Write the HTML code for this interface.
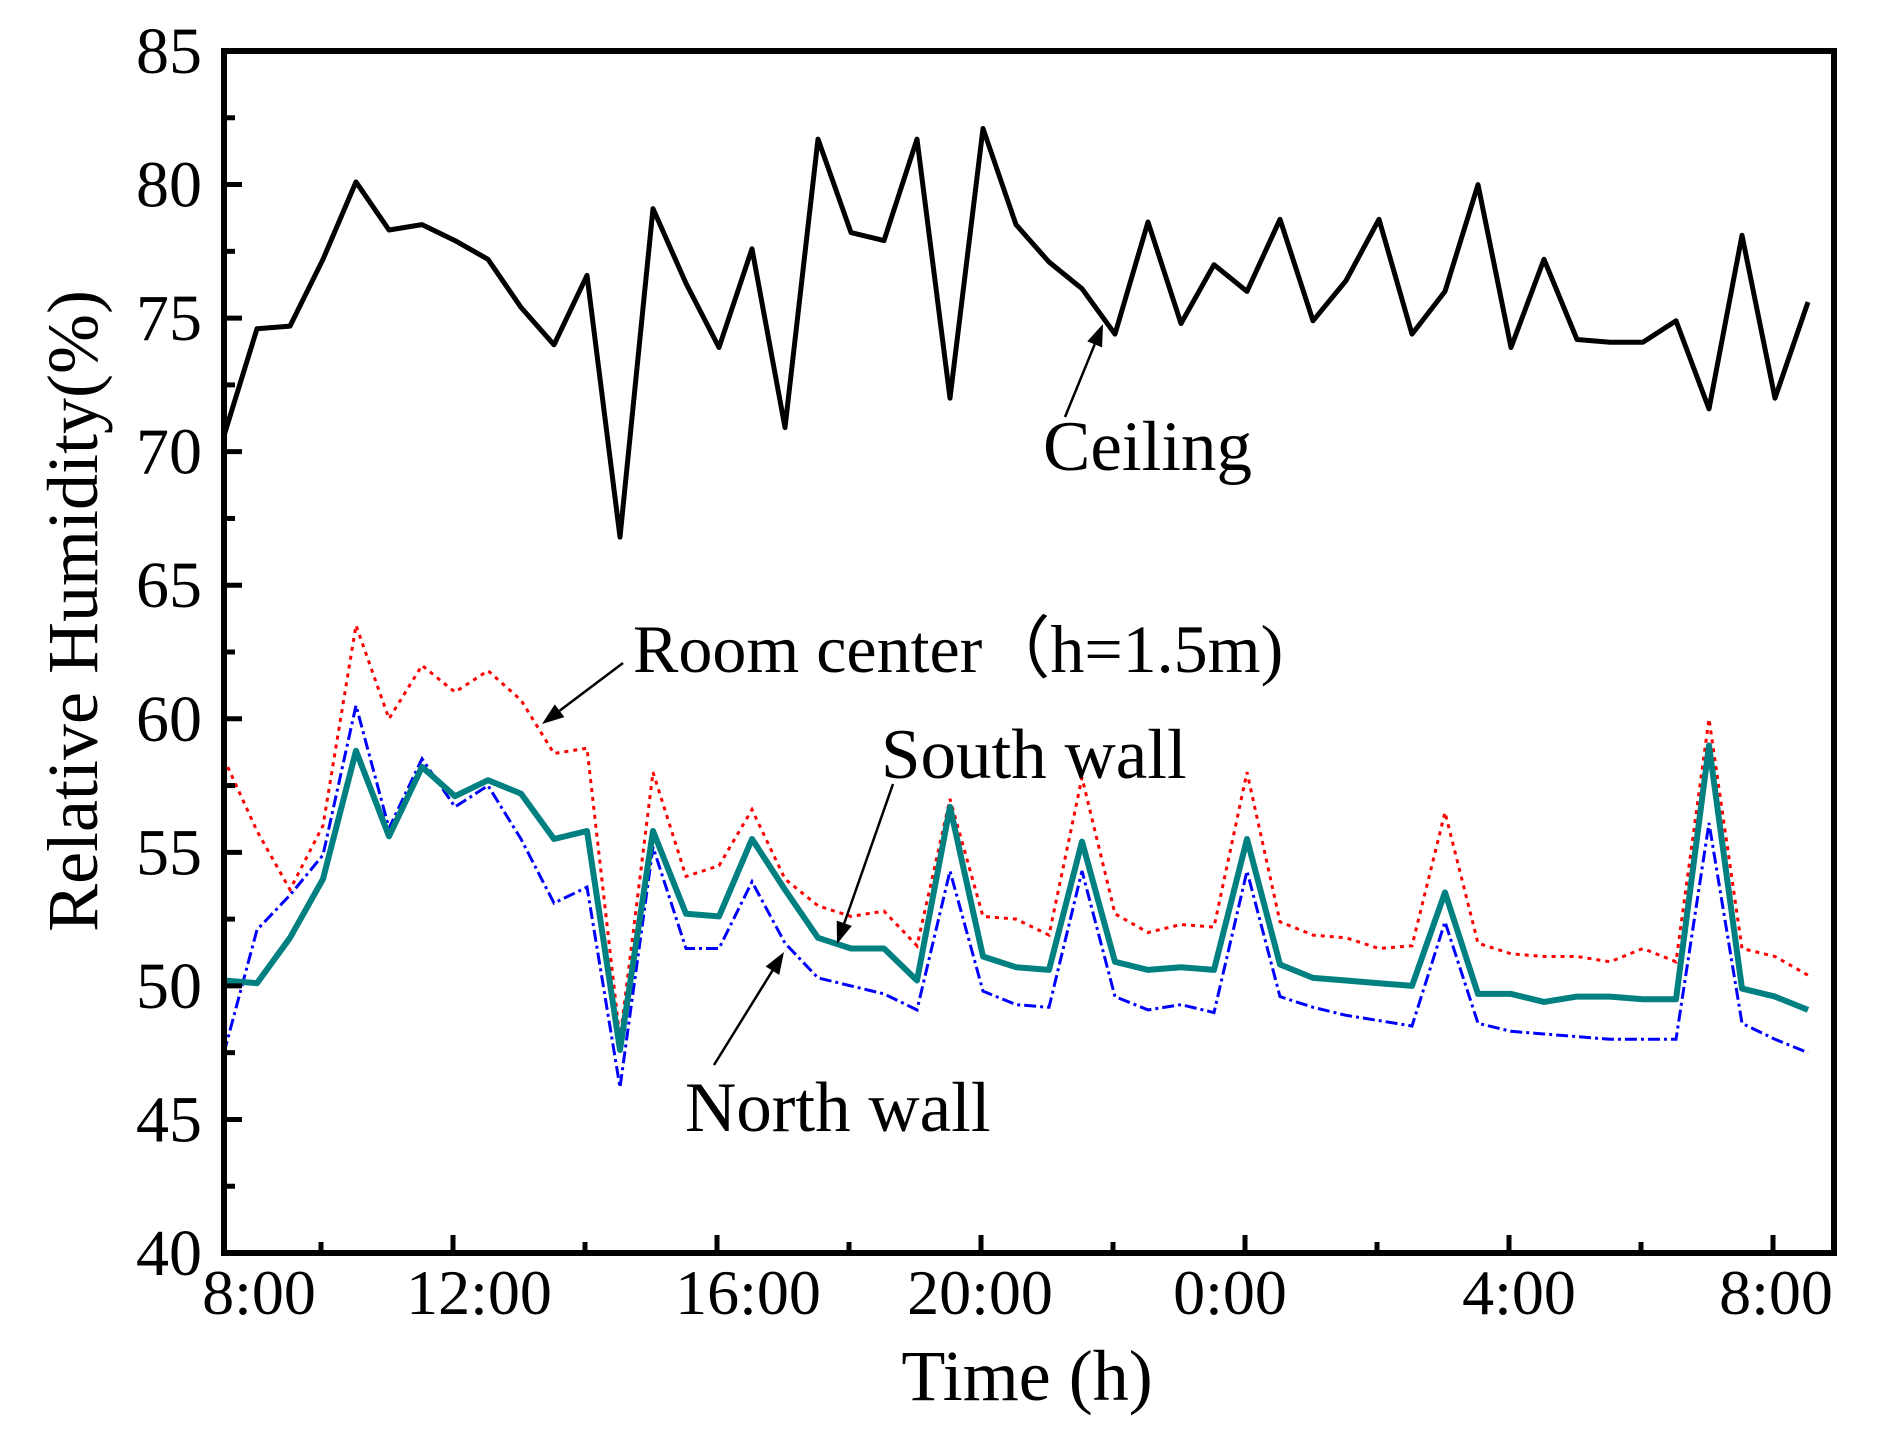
<!DOCTYPE html>
<html><head><meta charset="utf-8">
<style>html,body{margin:0;padding:0;background:#fff}svg{display:block}</style>
</head><body>
<svg id="c" width="1888" height="1430" viewBox="0 0 1888 1430" xmlns="http://www.w3.org/2000/svg" font-family="Liberation Serif, serif">
</svg>
<script>
const svg=document.getElementById('c');
const L=224,R=1834,T=51,B=1253;
const Y=v=>B-(v-40)*(B-T)/45;
const X=i=>L+i*33;
let h='';
const ceil=[70.6,74.6,74.7,77.2,80.1,78.3,78.5,77.9,77.2,75.4,74.0,76.6,66.8,79.1,76.3,73.9,77.6,70.9,81.7,78.2,77.9,81.7,72.0,82.1,78.5,77.1,76.1,74.4,78.6,74.8,77.0,76.0,78.7,74.9,76.4,78.7,74.4,76.0,80.0,73.9,77.2,74.2,74.1,74.1,74.9,71.6,78.1,72.0,75.6];
const south=[50.2,50.1,51.8,54.0,58.8,55.6,58.2,57.1,57.7,57.2,55.5,55.8,47.6,55.8,52.7,52.6,55.5,53.6,51.8,51.4,51.4,50.2,56.7,51.1,50.7,50.6,55.4,50.9,50.6,50.7,50.6,55.5,50.8,50.3,50.2,50.1,50.0,53.5,49.7,49.7,49.4,49.6,49.6,49.5,49.5,59.0,49.9,49.6,49.1];
const room=[58.5,55.8,53.6,56.0,63.5,60.0,62.0,61.0,61.8,60.7,58.7,58.9,48.0,58.0,54.1,54.5,56.6,54.0,53.0,52.6,52.8,51.5,57.0,52.6,52.5,51.9,57.8,52.7,52.0,52.3,52.2,58.0,52.4,51.9,51.8,51.4,51.5,56.5,51.6,51.2,51.1,51.1,50.9,51.4,50.9,60.0,51.4,51.1,50.4];
const north=[47.5,52.1,53.4,54.9,60.5,55.9,58.5,56.7,57.5,55.5,53.1,53.7,46.2,55.2,51.4,51.4,53.9,51.6,50.3,50.0,49.7,49.1,54.3,49.8,49.3,49.2,54.3,49.6,49.1,49.3,49.0,54.3,49.6,49.2,48.9,48.7,48.5,52.4,48.6,48.3,48.2,48.1,48.0,48.0,48.0,56.1,48.6,48.0,47.5];
const pts=a=>a.map((v,i)=>X(i).toFixed(1)+','+Y(v).toFixed(1)).join(' ');
h+=`<polyline points="${pts(room)}" fill="none" stroke="#ff0000" stroke-width="3" stroke-dasharray="4,5"/>`;
h+=`<polyline points="${pts(north)}" fill="none" stroke="#0000ff" stroke-width="3" stroke-dasharray="12,4,3,4"/>`;
h+=`<polyline points="${pts(south)}" fill="none" stroke="#008080" stroke-width="6" stroke-linejoin="round"/>`;
h+=`<polyline points="${pts(ceil)}" fill="none" stroke="#000" stroke-width="5" stroke-linejoin="round"/>`;
h+=`<rect x="${L}" y="${T}" width="${R-L}" height="${B-T}" fill="none" stroke="#000" stroke-width="6"/>`;
for(let v=40;v<=85;v+=2.5){const y=Y(v);const maj=(v%5===0);h+=`<line x1="${L}" y1="${y}" x2="${L+(maj?18:11)}" y2="${y}" stroke="#000" stroke-width="5"/>`;
 if(maj)h+=`<text x="202" y="${y+22}" font-size="66" text-anchor="end">${v}</text>`;}
for(let t=-2;t<=20;t+=2){const x=453+66*t;const maj=(t%4===0);h+=`<line x1="${x}" y1="${B}" x2="${x}" y2="${B-(maj?18:11)}" stroke="#000" stroke-width="5"/>`;}
const xl=[[259,'8:00'],[479,'12:00'],[748,'16:00'],[980,'20:00'],[1230,'0:00'],[1519,'4:00'],[1776,'8:00']];
xl.forEach(([x,s])=>h+=`<text x="${x}" y="1314" font-size="64" text-anchor="middle">${s}</text>`);
h+=`<text x="1027" y="1400" font-size="72" text-anchor="middle">Time (h)</text>`;
h+=`<text transform="translate(97,611) rotate(-90)" font-size="72" text-anchor="middle">Relative Humidity(%)</text>`;
h+=`<text x="1043" y="470" font-size="71">Ceiling</text>`;
h+=`<text x="633" y="672" font-size="68">Room center（h=1.5m)</text>`;
h+=`<text x="881" y="778" font-size="71">South wall</text>`;
h+=`<text x="685" y="1131" font-size="71">North wall</text>`;
function arrow(x1,y1,x2,y2){const a=Math.atan2(y2-y1,x2-x1),l=22,w=8;
 const bx=x2-l*Math.cos(a),by=y2-l*Math.sin(a);
 const px=-Math.sin(a)*w,py=Math.cos(a)*w;
 h+=`<line x1="${x1}" y1="${y1}" x2="${bx}" y2="${by}" stroke="#000" stroke-width="2.5"/>`;
 h+=`<polygon points="${x2},${y2} ${bx+px},${by+py} ${bx-px},${by-py}" fill="#000"/>`;}
arrow(1065,417,1103,324);
arrow(623,663,542,724);
arrow(893,784,837,944);
arrow(714,1065,784,952);
svg.innerHTML=h;
</script>
</body></html>
